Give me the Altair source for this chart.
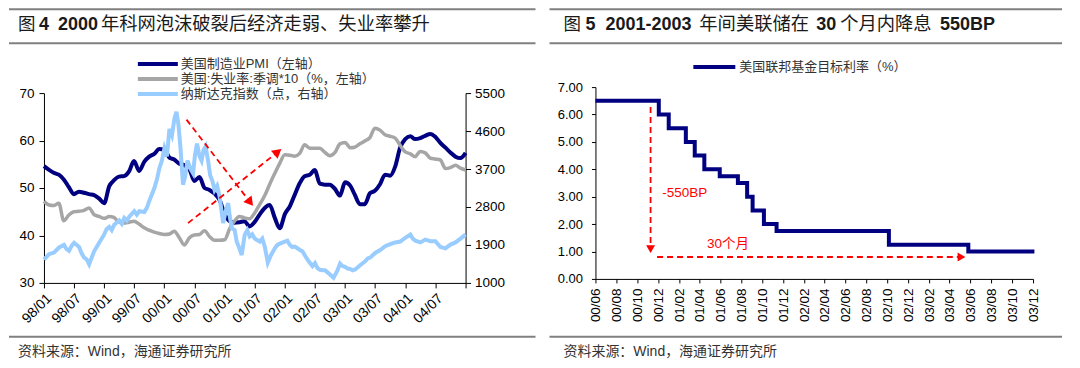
import altair as alt
import pandas as pd

FONT = "Liberation Sans, Noto Sans CJK SC, sans-serif"
NAVY = "#000080"
GREY = "#a6a6a6"
LBLUE = "#99ccff"
RED = "#ff0000"
RULE = "#808080"

# ---------------- Left panel data (monthly from 1998-01) ----------------
pmi = [54.6, 53.8, 53.2, 52.8, 51.8, 50.2, 48.7, 49.2, 49.0, 48.7, 48.5, 47.8,
       46.8, 50.4, 51.6, 52.4, 52.5, 53.5, 55.7, 53.6, 55.5, 56.6, 57.2, 58.2,
       58.1, 56.4, 56.0, 55.1, 54.8, 54.0, 51.5, 52.3, 50.0, 49.6, 48.8, 47.5,
       44.5, 43.0, 42.7, 42.8, 43.0, 41.9, 42.8, 44.4, 45.8, 46.4, 43.7, 41.5,
       44.5, 46.2, 48.5, 51.0, 52.5, 52.8, 53.8, 50.9, 50.7, 50.7, 49.8, 48.4,
       51.2, 50.5, 48.6, 46.6, 46.6, 48.9, 49.4, 50.8, 52.8, 52.6, 54.5, 58.5,
       60.3, 60.9, 60.3, 60.5, 61.0, 61.4, 60.8, 59.5, 58.5, 57.5, 56.6, 56.3,
       57.4]
unemp10 = [47.2, 46.4, 46.3, 46.8, 43.1, 44.3, 45.0, 45.1, 45.3, 45.8, 44.4, 44.0,
           43.6, 44.0, 43.8, 42.8, 42.6, 42.8, 43.0, 42.4, 41.6, 41.1, 40.7, 40.4,
           40.2, 40.3, 40.9, 39.5, 38.0, 39.5, 40.1, 40.2, 41.0, 39.8, 39.0, 39.0,
           39.1, 41.5, 43.0, 44.0, 43.7, 43.5, 44.7, 46.5, 48.4, 50.8, 53.1, 55.2,
           57.0, 56.9, 56.7, 57.3, 59.1, 58.4, 58.4, 58.4, 57.5, 56.8, 57.5, 59.3,
           59.6, 58.5, 58.6, 59.3, 59.9, 60.6, 62.6, 62.2, 61.2, 60.9, 60.5, 59.0,
           57.6, 57.2, 56.6, 57.7, 57.4, 56.3, 56.1, 55.9, 54.1, 54.3, 54.8, 54.2,
           53.8]
# NASDAQ: months since 1998-01 (fractional) and index level
nasdaq_m = [0, 1, 2, 3, 4, 4.5, 5, 5.5, 6, 7, 7.5, 8, 8.5, 9, 9.5, 10, 10.5, 11,
            12, 12.5, 13, 13.5, 14, 15, 15.5, 16, 16.5, 17, 18, 18.5, 19, 20, 20.5,
            21, 22, 22.5, 23, 23.5, 24, 24.5, 25, 25.5, 26, 26.4, 26.8, 27.2, 27.7,
            28.1, 28.6, 29.2, 29.7, 30.1, 30.5, 31, 31.4, 31.8, 32.2, 32.7, 33.1,
            33.6, 34, 34.5, 35, 35.7, 36.2, 36.7, 37, 37.4, 38, 38.4, 39, 39.4, 40,
            40.5, 41, 41.5, 42, 43, 43.5, 44, 44.6, 45.2, 46, 46.5, 47, 48, 48.5, 49,
            49.5, 50, 51, 51.5, 52, 52.7, 53.5, 54, 54.5, 55, 55.5, 56, 56.5, 57,
            57.7, 58.5, 59, 59.5, 60, 60.5, 61, 61.5, 62, 63, 64, 64.5, 65, 66, 67,
            68, 69, 70, 71, 72, 73, 73.5, 74, 75, 76, 77, 78, 79, 80, 81, 82, 83, 84]
nasdaq_v = [1552, 1680, 1720, 1840, 1900, 1800, 1760, 1880, 1950, 1850, 1700, 1600,
            1560, 1440, 1600, 1750, 1850, 1950, 2150, 2280, 2330, 2250, 2380, 2480,
            2400, 2540, 2480, 2570, 2700, 2620, 2700, 2680, 2780, 2950, 3250, 3450,
            3720, 3900, 4190, 4000, 4650, 4500, 4900, 5057, 4750, 4200, 3330, 3500,
            3900, 3700, 3600, 4040, 4300, 4000, 3900, 4150, 4230, 3900, 3560, 3400,
            3200, 3300, 3045, 2420, 2700, 2890, 2600, 2300, 2250, 1980, 1800, 1660,
            2140, 2250, 2100, 2150, 2050, 1980, 2050, 1860, 1480, 1650, 1820, 1900,
            1930, 1980, 2000, 1900, 1850, 1860, 1780, 1750, 1650, 1520, 1400, 1470,
            1350, 1310, 1300, 1300, 1250, 1200, 1120, 1300, 1460, 1400, 1380, 1340,
            1330, 1300, 1320, 1420, 1514, 1580, 1600, 1711, 1780, 1870, 1920, 1960,
            1980, 2070, 2145, 2050, 2000, 1960, 2027, 1990, 1990, 1850, 1820, 1908,
            1960, 2050, 2145]
# red dashed arrows (months since 1998-01, left-axis value)
arrow_id = ["a", "a", "b", "b"]
arrow_m = [28.4, 41.1, 28.7, 46.6]
arrow_v = [64.4, 47.0, 42.6, 57.6]
head_m = [41.1, 46.6]
head_v = [47.0, 57.6]
head_ang = [142, 51]

left_series = ["美国制造业PMI（左轴）", "美国:失业率:季调*10（%，左轴）", "纳斯达克指数（点，右轴）"]

# ---------------- Right panel data ----------------
fed_dates = ["2000-06-01", "2000-12-03", "2001-01-01", "2001-02-20", "2001-03-18",
             "2001-04-15", "2001-05-30", "2001-07-22", "2001-08-18", "2001-09-03",
             "2001-10-06", "2001-11-12", "2002-10-06", "2003-05-26", "2003-12-05"]
fed_rate = [6.5, 6.0, 5.5, 5.0, 4.5, 4.0, 3.75, 3.5, 3.0, 2.5, 2.0, 1.75, 1.25, 1.0, 1.0]
r_arrow_id = ["v", "v", "h", "h"]
r_arrow_date = ["2000-11-09", "2000-11-09", "2000-11-28", "2003-05-06"]
r_arrow_v = [6.27, 1.09, 0.80, 0.80]
r_head_date = ["2000-11-09", "2003-05-06"]
r_head_v = [1.09, 0.80]
r_head_ang = [180, 90]
r_notes = ["-550BP", "30个月"]
r_note_date = ["2000-12-13", "2001-04-23"]
r_note_v = [3.15, 1.26]

right_series = "美国联邦基金目标利率（%）"

# ---------------- helpers ----------------
one = pd.DataFrame({"k": [0]})


def mdate(m):
    return pd.Timestamp("1998-01-01") + pd.Timedelta(days=m * 30.4375)


def text(t, x, y, size, color="#222222", weight="normal", align="left"):
    return alt.Chart(one).mark_text(
        text=t, font=FONT, fontSize=size, color=color, fontWeight=weight,
        align=align, baseline="middle"
    ).encode(x=alt.value(x), y=alt.value(y))


def hrule(x1, x2, y, color=RULE, width=2):
    return alt.Chart(one).mark_rule(color=color, strokeWidth=width).encode(
        x=alt.value(x1), x2=alt.value(x2), y=alt.value(y))


AX = dict(labelFont=FONT, labelColor="#000000", domainColor="#000000",
          tickColor="#000000", domainWidth=1, tickWidth=1, grid=False, title=None,
          labelOverlap=False, labelFlush=False)

W, H = 532, 352
TITLE_CJK = 17.5

# ================= Left panel =================
L_X0, L_X1, L_Y0, L_Y1 = 35, 457, 275, 85

df_left = pd.DataFrame({"date": pd.date_range("1998-01-01", periods=len(pmi), freq="MS"),
                        "pmi": pmi, "unemp": unemp10})
df_nas = pd.DataFrame({"date": [mdate(m) for m in nasdaq_m], "v": nasdaq_v})
df_arr = pd.DataFrame({"id": arrow_id, "date": [mdate(m) for m in arrow_m], "v": arrow_v})
df_head = pd.DataFrame({"date": [mdate(m) for m in head_m], "v": head_v, "ang": head_ang})

xsL = alt.Scale(domain=[alt.DateTime(year=1998, month=1, date=1),
                        alt.DateTime(year=2005, month=1, date=1)],
                range=[L_X0, L_X1], nice=False)
ysL = alt.Scale(domain=[30, 70], range=[L_Y0, L_Y1], nice=False, zero=False)
ysR = alt.Scale(domain=[1000, 5500], range=[L_Y0, L_Y1], nice=False, zero=False)

left_ticks = [alt.DateTime(year=y, month=mo, date=1)
              for y in range(1998, 2005) for mo in (1, 7)] + [alt.DateTime(year=2005, month=1, date=1)]

xaxL = alt.Axis(values=left_ticks, orient="bottom", offset=-(H - L_Y0), tickSize=5,
                labelAngle=315, labelAlign="right", labelBaseline="top", labelPadding=3,
                labelFontSize=14,
                labelExpr="year(datum.value) >= 2005 ? '' : timeFormat(datum.value, '%y/%m')",
                **AX)
yaxL = alt.Axis(values=[30, 40, 50, 60, 70], orient="left", offset=-L_X0, tickSize=5,
                labelPadding=5, labelFontSize=13.5, **AX)
yaxR = alt.Axis(values=[1000, 1900, 2800, 3700, 4600, 5500], orient="right", offset=-(W - L_X1),
                tickSize=5, labelPadding=4, labelFontSize=13.5, format="d", **AX)

pmi_line = alt.Chart(df_left).mark_line(color=NAVY, strokeWidth=4, interpolate="monotone").encode(
    x=alt.X("date:T", scale=xsL, axis=xaxL),
    y=alt.Y("pmi:Q", scale=ysL, axis=yaxL))
unemp_line = alt.Chart(df_left).mark_line(color=GREY, strokeWidth=3.5, interpolate="monotone").encode(
    x=alt.X("date:T", scale=xsL, axis=None),
    y=alt.Y("unemp:Q", scale=ysL, axis=None))
nas_line = alt.Chart(df_nas).mark_line(color=LBLUE, strokeWidth=4).encode(
    x=alt.X("date:T", scale=xsL, axis=None),
    y=alt.Y("v:Q", scale=ysR, axis=yaxR))
arrows = alt.Chart(df_arr).mark_line(color=RED, strokeWidth=1.8, strokeDash=[6, 4]).encode(
    x=alt.X("date:T", scale=xsL, axis=None),
    y=alt.Y("v:Q", scale=ysL, axis=None),
    detail="id:N")
heads = alt.Chart(df_head).mark_point(shape="triangle-up", filled=True, size=110, color=RED,
                                      opacity=1, strokeWidth=0).encode(
    x=alt.X("date:T", scale=xsL, axis=None),
    y=alt.Y("v:Q", scale=ysL, axis=None),
    angle=alt.Angle("ang:Q", scale=None))

left_deco = [
    hrule(0, 527, 1), hrule(0, 527, 35), hrule(0, 527, 329),
    text("图", 9, 17, TITLE_CJK, "#1a1a1a"),
    text("4", 30, 17, 18, "#1a1a1a", "bold"),
    text("2000", 49, 17, 18, "#1a1a1a", "bold"),
    text("年科网泡沫破裂后经济走弱、失业率攀升", 92, 17, TITLE_CJK + 0.8, "#1a1a1a"),
    text("资料来源：Wind，海通证券研究所", 9, 344, 14, "#333333"),
]
leg_colors = [NAVY, GREY, LBLUE]
leg_y = [56, 71, 86]
for s, c, yy in zip(left_series, leg_colors, leg_y):
    left_deco.append(hrule(129, 169, yy, color=c, width=4))
    left_deco.append(text(s, 172, yy, 13, "#333333"))

left_panel = alt.layer(pmi_line, unemp_line, nas_line, arrows, heads, *left_deco).resolve_scale(
    x="independent", y="independent").properties(width=W, height=H)

# ================= Right panel =================
R_X0, R_X1, R_Y0, R_Y1 = 55, 493, 271, 79

df_fed = pd.DataFrame({"date": pd.to_datetime(fed_dates), "r": fed_rate})
df_rarr = pd.DataFrame({"id": r_arrow_id, "date": pd.to_datetime(r_arrow_date), "v": r_arrow_v})
df_rhead = pd.DataFrame({"date": pd.to_datetime(r_head_date), "v": r_head_v, "ang": r_head_ang})
df_note = pd.DataFrame({"date": pd.to_datetime(r_note_date), "v": r_note_v, "t": r_notes})

xsR = alt.Scale(domain=[alt.DateTime(year=2000, month=6, date=1),
                        alt.DateTime(year=2003, month=12, date=1)],
                range=[R_X0, R_X1], nice=False)
ysF = alt.Scale(domain=[0, 7], range=[R_Y0, R_Y1], nice=False, zero=False)

right_ticks = []
y, mo = 2000, 6
while (y, mo) <= (2003, 12):
    right_ticks.append(alt.DateTime(year=y, month=mo, date=1))
    mo += 2
    if mo > 12:
        mo -= 12
        y += 1

xaxF = alt.Axis(values=right_ticks, orient="bottom", offset=-(H - R_Y0), tickSize=4,
                labelAngle=270, labelAlign="right", labelBaseline="middle", labelPadding=5,
                labelFontSize=13.5, format="%y/%m", **AX)
yaxF = alt.Axis(values=[0, 1, 2, 3, 4, 5, 6, 7], orient="left", offset=-R_X0, tickSize=4,
                labelPadding=9, labelFontSize=13, format=".2f", **AX)

fed_line = alt.Chart(df_fed).mark_line(color=NAVY, strokeWidth=4, interpolate="step-after").encode(
    x=alt.X("date:T", scale=xsR, axis=xaxF),
    y=alt.Y("r:Q", scale=ysF, axis=yaxF))
r_arrows = alt.Chart(df_rarr).mark_line(color=RED, strokeWidth=1.8, strokeDash=[6, 4]).encode(
    x=alt.X("date:T", scale=xsR, axis=None),
    y=alt.Y("v:Q", scale=ysF, axis=None),
    detail="id:N")
r_heads = alt.Chart(df_rhead).mark_point(shape="triangle-up", filled=True, size=80, color=RED,
                                         opacity=1, strokeWidth=0).encode(
    x=alt.X("date:T", scale=xsR, axis=None),
    y=alt.Y("v:Q", scale=ysF, axis=None),
    angle=alt.Angle("ang:Q", scale=None))
r_text = alt.Chart(df_note).mark_text(color=RED, font=FONT, fontSize=13.5, align="left",
                                      baseline="middle").encode(
    x=alt.X("date:T", scale=xsR, axis=None),
    y=alt.Y("v:Q", scale=ysF, axis=None),
    text="t:N")

right_deco = [
    hrule(9, 522, 1), hrule(9, 522, 35), hrule(9, 522, 329),
    text("图", 23, 17, TITLE_CJK, "#1a1a1a"),
    text("5", 45, 17, 18, "#1a1a1a", "bold"),
    text("2001-2003", 65, 17, 18, "#1a1a1a", "bold"),
    text("年间美联储在", 159, 17, TITLE_CJK + 0.8, "#1a1a1a"),
    text("30", 276, 17, 18, "#1a1a1a", "bold"),
    text("个月内降息", 300, 17, TITLE_CJK + 0.8, "#1a1a1a"),
    text("550BP", 400, 17, 18, "#1a1a1a", "bold"),
    hrule(153, 195, 59, color=NAVY, width=4),
    text(right_series, 199, 59, 13, "#333333"),
    text("资料来源：Wind，海通证券研究所", 23, 344, 14, "#333333"),
]

right_panel = alt.layer(fed_line, r_arrows, r_heads, r_text, *right_deco).resolve_scale(
    x="independent", y="independent").properties(width=W, height=H)

chart = alt.hconcat(left_panel, right_panel, spacing=0).properties(padding=0).configure(
    font=FONT).configure_view(stroke=None)

chart.save("out.html", embed_options={"renderer": "svg", "actions": False})
